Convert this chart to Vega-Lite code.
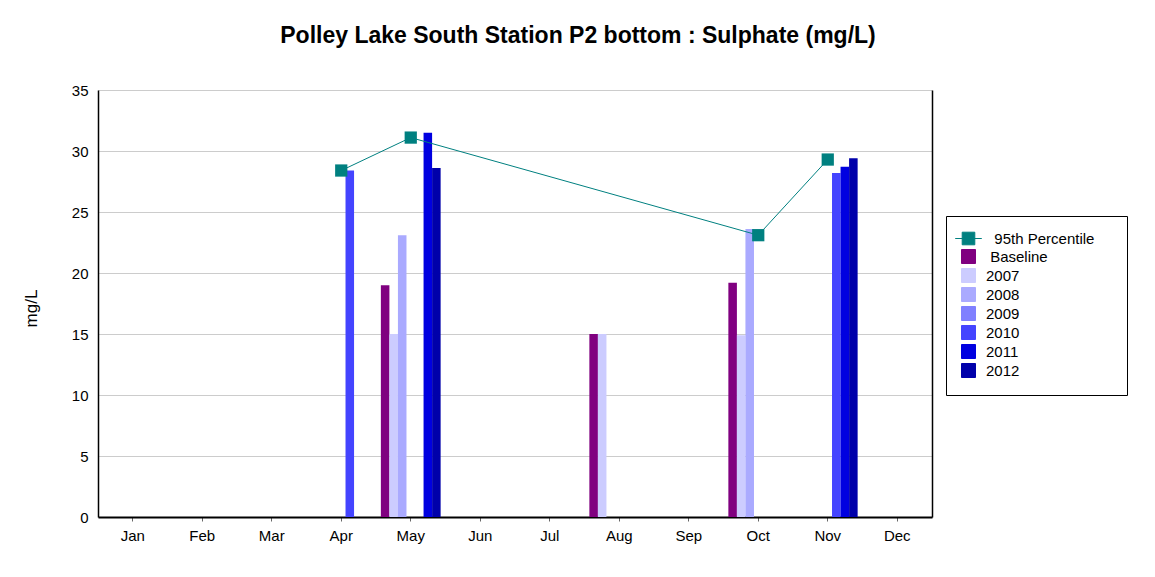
{
  "$schema": "https://vega.github.io/schema/vega-lite/v6.json",
  "autosize": {"type": "none"},
  "width": 834,
  "height": 427,
  "padding": {"left": 98, "top": 90, "right": 223, "bottom": 60},
  "background": "white",
  "config": {
    "font": "Liberation Sans",
    "view": {"stroke": null},
    "axis": {"labelFont": "Liberation Sans", "titleFont": "Liberation Sans", "labelColor": "black", "titleColor": "black"}
  },
  "title": {
    "text": "Polley Lake South Station P2 bottom : Sulphate (mg/L)",
    "fontSize": 23,
    "fontWeight": "bold",
    "font": "Liberation Sans",
    "anchor": "middle",
    "frame": "group",
    "dx": 63,
    "offset": 35,
    "color": "black"
  },
  "datasets": {
    "bars": [
      {"month": "Apr", "series": "2010", "value": 28.4},
      {"month": "May", "series": "Baseline", "value": 19.0},
      {"month": "May", "series": "2007", "value": 15.0},
      {"month": "May", "series": "2008", "value": 23.1},
      {"month": "May", "series": "2011", "value": 31.5},
      {"month": "May", "series": "2012", "value": 28.6},
      {"month": "Aug", "series": "Baseline", "value": 15.0},
      {"month": "Aug", "series": "2007", "value": 15.0},
      {"month": "Oct", "series": "Baseline", "value": 19.2},
      {"month": "Oct", "series": "2007", "value": 14.9},
      {"month": "Oct", "series": "2008", "value": 23.6},
      {"month": "Nov", "series": "2010", "value": 28.2},
      {"month": "Nov", "series": "2011", "value": 28.7},
      {"month": "Nov", "series": "2012", "value": 29.4}
    ],
    "pct": [
      {"month": "Apr", "series": "95th Percentile", "value": 28.4},
      {"month": "May", "series": "95th Percentile", "value": 31.1},
      {"month": "Oct", "series": "95th Percentile", "value": 23.1},
      {"month": "Nov", "series": "95th Percentile", "value": 29.3}
    ]
  },
  "resolve": {"axis": {"y": "independent"}},
  "layer": [
    {
      "data": {"name": "bars"},
      "mark": {"type": "bar", "opacity": 1},
      "encoding": {
        "x": {
          "field": "month",
          "type": "nominal",
          "scale": {"domain": ["Jan","Feb","Mar","Apr","May","Jun","Jul","Aug","Sep","Oct","Nov","Dec"], "paddingInner": 0.14, "paddingOuter": 0.07},
          "axis": {"title": null, "labelAngle": 0, "labelFontSize": 15, "labelPadding": 7, "tickSize": 4, "tickColor": "#666666", "domainColor": "black", "domainWidth": 2, "grid": false}
        },
        "xOffset": {
          "field": "series",
          "type": "nominal",
          "scale": {"domain": ["Baseline","2007","2008","2009","2010","2011","2012"], "paddingInner": 0, "paddingOuter": 0}
        },
        "y": {
          "field": "value",
          "type": "quantitative",
          "scale": {"domain": [0, 35], "nice": false},
          "axis": {"title": "mg/L", "titleFontSize": 17, "titleFontWeight": "normal", "titlePadding": 31, "titleY": 218, "labelFontSize": 15, "labelPadding": 10, "ticks": false, "tickSize": 0, "values": [0,5,10,15,20,25,30,35], "domainColor": "black", "domainWidth": 1.5, "grid": true, "gridColor": "#cccccc", "gridWidth": 1}
        },
        "color": {
          "field": "series",
          "type": "nominal",
          "scale": {
            "domain": ["95th Percentile","Baseline","2007","2008","2009","2010","2011","2012"],
            "range": ["#008080","#800080","#ccccff","#aaaaff","#8080ff","#4444ff","#0000e0","#0000aa"]
          },
          "legend": {
            "title": null,
            "orient": "none",
            "legendX": 848,
            "legendY": 126,
            "padding": 15,
            "strokeColor": "black",
            "fillColor": "white",
            "symbolType": "square",
            "symbolSize": 196,
            "symbolStrokeWidth": 0,
            "symbolOpacity": 1,
            "labelFontSize": 15,
            "labelColor": "black",
            "labelOffset": 10,
            "rowPadding": 0,
            "labelExpr": "(datum.value === '95th Percentile' ? '\u200b\u00a0\u00a0' : datum.value === 'Baseline' ? '\u200b\u00a0' : '') + datum.label + (datum.value === '95th Percentile' ? '\u00a0\u00a0\u00a0\u00a0\u200b' : '')",
            "encode": {
              "symbols": {
                "update": {
                  "shape": {"signal": "datum.value === '95th Percentile' ? 'M-1.9,0H1.9M-0.9,-0.9H0.9V0.9H-0.9Z' : 'square'"},
                  "stroke": {"signal": "datum.value === '95th Percentile' ? '#008080' : null"},
                  "strokeWidth": {"value": 1}
                }
              }
            }
          }
        }
      }
    },
    {
      "data": {"name": "pct"},
      "mark": {"type": "line", "color": "#008080", "strokeWidth": 1},
      "encoding": {
        "x": {"field": "month", "type": "nominal"},
        "y": {"field": "value", "type": "quantitative", "axis": {"orient": "right", "title": null, "labels": false, "ticks": false, "grid": false, "domainColor": "black", "domainWidth": 1.5}},
        "color": {"field": "series", "type": "nominal"}
      }
    },
    {
      "data": {"name": "pct"},
      "mark": {"type": "point", "shape": "square", "filled": true, "size": 150, "opacity": 1},
      "encoding": {
        "x": {"field": "month", "type": "nominal"},
        "y": {"field": "value", "type": "quantitative", "axis": null},
        "color": {"field": "series", "type": "nominal"}
      }
    }
  ]
}
